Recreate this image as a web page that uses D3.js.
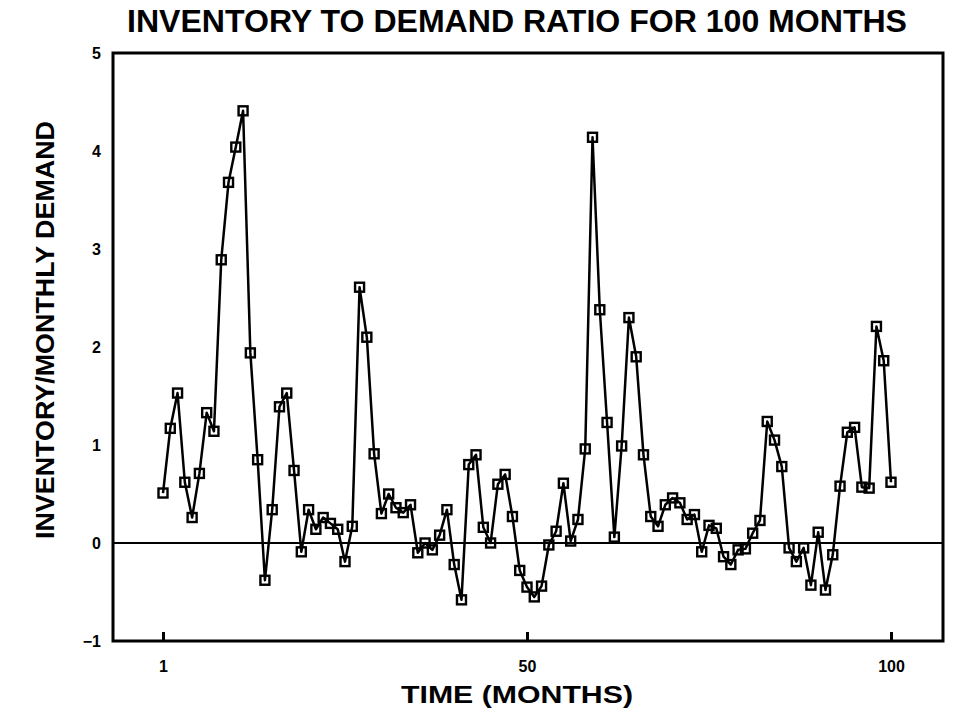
<!DOCTYPE html>
<html>
<head>
<meta charset="utf-8">
<script src="https://cdn.jsdelivr.net/npm/d3@7"></script>
<style>
  body { margin: 0; background: #fff; }
  text { font-family: "Liberation Sans Narrow", "Liberation Sans", Arial, sans-serif; font-weight: bold; fill: #000; }
</style>
</head>
<body>
<div id="chart"></div>
<script>
// inventory / monthly demand, one value per month
var ratio = [0.51,1.17,1.53,0.62,0.26,0.71,1.33,1.14,2.89,3.68,
             4.04,4.41,1.94,0.85,-0.38,0.34,1.39,1.53,0.74,-0.09,
             0.34,0.14,0.26,0.2,0.14,-0.19,0.17,2.61,2.1,0.91,
             0.3,0.5,0.36,0.31,0.39,-0.1,0.0,-0.07,0.08,0.34,
             -0.22,-0.58,0.8,0.9,0.16,0.0,0.6,0.7,0.27,-0.28,
             -0.45,-0.55,-0.44,-0.02,0.12,0.61,0.02,0.24,0.96,4.14,
             2.38,1.23,0.06,0.99,2.3,1.9,0.9,0.27,0.17,0.39,
             0.46,0.41,0.24,0.29,-0.09,0.18,0.15,-0.14,-0.22,-0.07,
             -0.06,0.1,0.23,1.24,1.05,0.78,-0.05,-0.19,-0.05,-0.43,
             0.11,-0.48,-0.12,0.58,1.13,1.18,0.57,0.56,2.21,1.86,
             0.62];
var xTicks = [0, 50, 100];
var xTickLabels = ["1", "50", "100"];
var yTicks = [-1, 0, 1, 2, 3, 4, 5];

var width = 961;
var height = 720;

var svg = d3.select("#chart").append("svg")
    .attr("width", width)
    .attr("height", height);

// scales
var x = d3.scaleLinear().domain([0, 100]).range([163, 891]);
var y = d3.scaleLinear().domain([-1, 5]).range([641, 53]);

var frameLeft = 113, frameRight = 943;

// title
svg.append("text")
    .attr("x", 517)
    .attr("y", 32)
    .attr("text-anchor", "middle")
    .attr("textLength", 780)
    .attr("lengthAdjust", "spacingAndGlyphs")
    .style("font-size", "31px")
    .text("INVENTORY TO DEMAND RATIO FOR 100 MONTHS");

// frame
svg.append("rect")
    .attr("x", frameLeft)
    .attr("y", y(5))
    .attr("width", frameRight - frameLeft)
    .attr("height", y(-1) - y(5))
    .attr("fill", "none")
    .attr("stroke", "#000")
    .attr("stroke-width", 3);

// zero line
svg.append("line")
    .attr("x1", frameLeft).attr("x2", frameRight)
    .attr("y1", y(0)).attr("y2", y(0))
    .attr("stroke", "#000")
    .attr("stroke-width", 2.2);

// x axis: ticks point up into the plot
var xAxis = d3.axisBottom(x)
    .tickValues(xTicks)
    .tickSize(-9)
    .tickPadding(20)
    .tickFormat(function(d, i) { return xTickLabels[i]; });
var gx = svg.append("g")
    .attr("transform", "translate(0," + y(-1) + ")")
    .call(xAxis);
gx.select(".domain").remove();
gx.selectAll("line").attr("stroke", "#000").attr("stroke-width", 3);
gx.selectAll("text").style("font-size", "16px");

// y axis labels only
var yAxis = d3.axisLeft(y)
    .tickValues(yTicks)
    .tickSize(0)
    .tickPadding(12)
    .tickFormat(d3.format("d"));
var gy = svg.append("g")
    .attr("transform", "translate(" + frameLeft + ",0)")
    .call(yAxis);
gy.select(".domain").remove();
gy.selectAll("text").style("font-size", "16px");

// axis titles
svg.append("text")
    .attr("x", 517)
    .attr("y", 703)
    .attr("text-anchor", "middle")
    .attr("textLength", 232)
    .attr("lengthAdjust", "spacingAndGlyphs")
    .style("font-size", "23px")
    .text("TIME (MONTHS)");

svg.append("text")
    .attr("transform", "translate(54,330) rotate(-90)")
    .attr("text-anchor", "middle")
    .attr("textLength", 418)
    .attr("lengthAdjust", "spacingAndGlyphs")
    .style("font-size", "26px")
    .text("INVENTORY/MONTHLY DEMAND");

// the series
var line = d3.line()
    .x(function(d, i) { return x(i); })
    .y(function(d) { return y(d); });

svg.append("path")
    .datum(ratio)
    .attr("d", line)
    .attr("fill", "none")
    .attr("stroke", "#000")
    .attr("stroke-width", 2.5)
    .attr("stroke-linejoin", "round");

var box = 9;
svg.selectAll("rect.mark")
    .data(ratio)
    .enter()
    .append("rect")
      .attr("class", "mark")
      .attr("x", function(d, i) { return x(i) - box / 2; })
      .attr("y", function(d) { return y(d) - box / 2; })
      .attr("width", box)
      .attr("height", box)
      .attr("fill", "none")
      .attr("stroke", "#000")
      .attr("stroke-width", 2.4);
</script>
</body>
</html>
